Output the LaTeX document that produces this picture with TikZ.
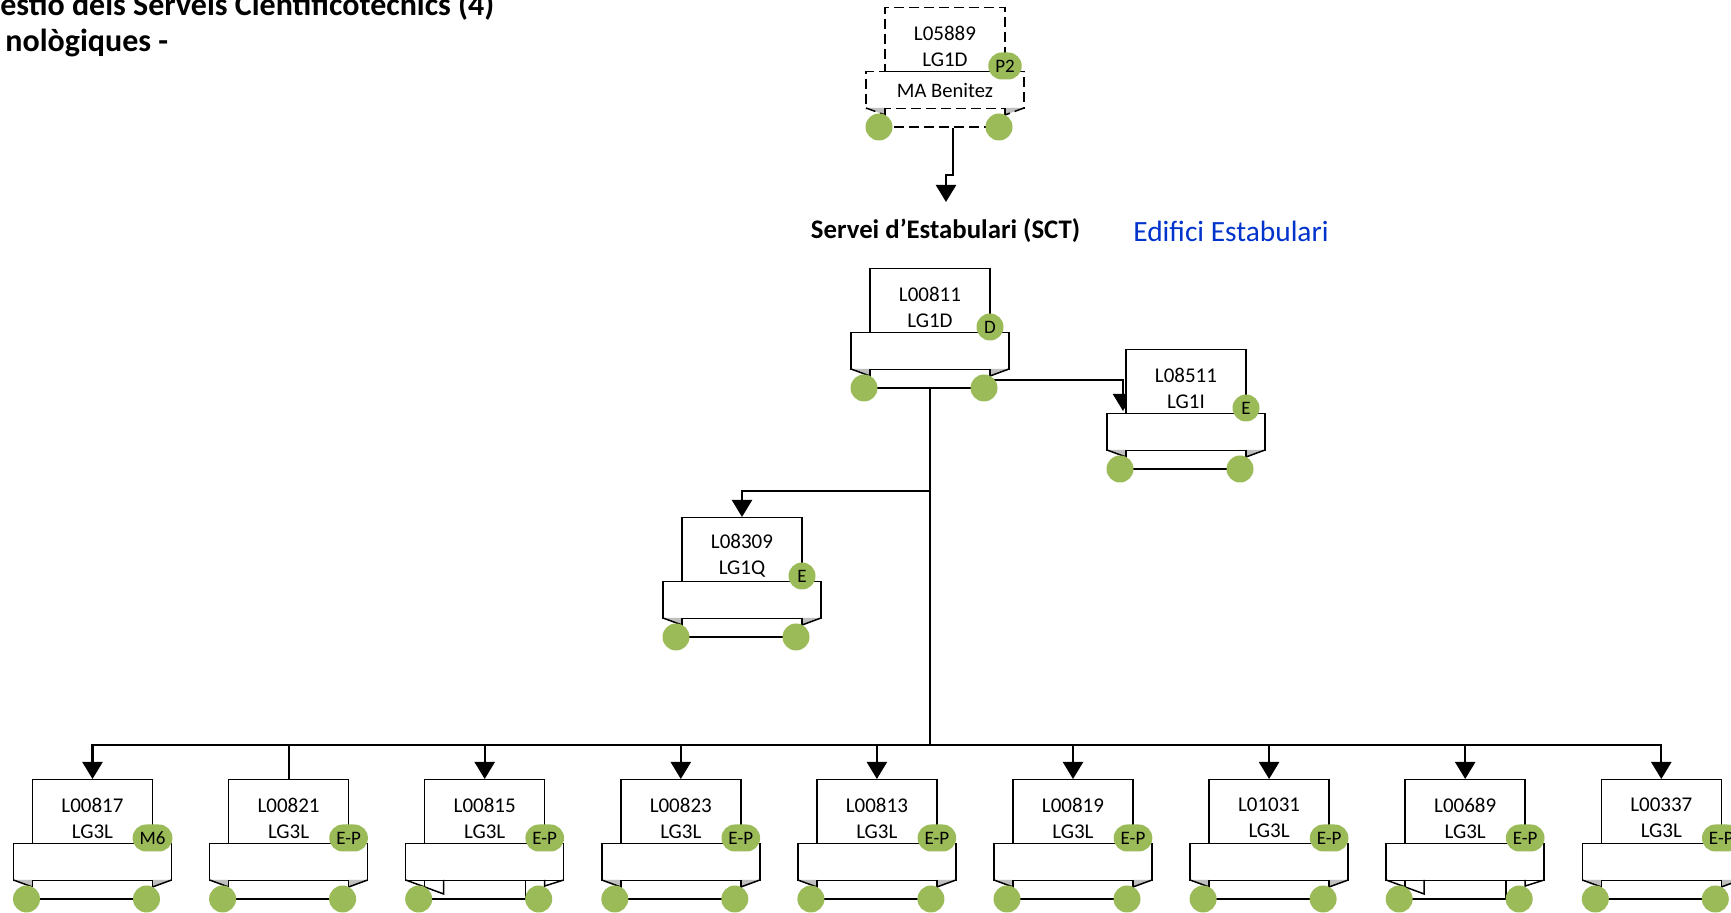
\documentclass[tikz,border=0pt]{standalone}
\usepackage{fontspec}
\setmainfont{Carlito}
\usetikzlibrary{arrows.meta,calc}
\definecolor{olive}{HTML}{9BBB59}
\definecolor{foldgray}{HTML}{BFBFBF}
\definecolor{linkblue}{HTML}{0033CC}
\tikzset{
  boxline/.style={line width=0.75pt,black},
  upbox/.style={boxline,draw,fill=white,minimum width=60pt,minimum height=32pt,inner sep=0pt,anchor=north},
  banbox/.style={boxline,draw,fill=white,minimum width=79pt,minimum height=18.5pt,inner sep=0pt,anchor=north,font=\fontsize{10.3}{12}\selectfont},
  boxtext/.style={align=center,font=\fontsize{10.5}{13}\selectfont,inner sep=0pt},
  dot/.style={circle,fill=olive,draw=none,minimum size=13.5pt,inner sep=0pt},
  badge/.style={rounded corners=6.75pt,fill=olive,draw=none,minimum width=13.5pt,minimum height=13.5pt,inner xsep=3.5pt,inner ysep=0pt,font=\fontsize{9.5}{10}\selectfont},
  conn/.style={line width=1.1pt,black},
  arr/.style={-{Triangle[width=10pt,length=8.5pt]}},
  dsh/.style={dash pattern=on 5pt off 2.5pt},
  titletext/.style={anchor=base west,inner sep=0pt,font=\bfseries\fontsize{16}{17}\selectfont},
}
% #1 extra style, #2 id, #3 cx, #4 top, #5 line1, #6 line2, #7 badge, #8 fold variant, #9 banner text
\newcommand\orgunit[9][]{%
  \node[upbox,#1] (u#2) at (#3,#4) {};
  \node[banbox,#1] (n#2) at (#3,#4+64) {#9};
  \node[boxtext] (t#2) at (#3,#4+39) {#5\\#6};
  \ifx#8B
    \draw[boxline,#1] (#3-79,#4+101) -- (#3-41,#4+115) -- (#3-41,#4+101);
    \draw[boxline,#1] (#3-60,#4+101) -- (#3-60,#4+120);
    \draw[boxline,#1] (#3+79,#4+101) -- (#3+60,#4+107) -- (#3+60,#4+101);
    \draw[boxline,#1] (#3+41,#4+101) -- (#3+41,#4+120);
  \else
    \fill[foldgray] (#3-79,#4+101) -- (#3-60,#4+101) -- (#3-60,#4+108) -- cycle;
    \fill[foldgray] (#3+79,#4+101) -- (#3+60,#4+101) -- (#3+60,#4+108) -- cycle;
    \draw[boxline,#1] (#3-79,#4+101) -- (#3-60,#4+108);
    \draw[boxline,#1] (#3+79,#4+101) -- (#3+60,#4+108);
    \draw[boxline,#1] (#3-60,#4+101) -- (#3-60,#4+120);
    \draw[boxline,#1] (#3+60,#4+101) -- (#3+60,#4+120);
  \fi
  \draw[boxline,#1] (#3-66,#4+120) -- (#3+54,#4+120);
  \node[dot] (c#2l) at (#3-66,#4+120) {};
  \node[dot] (c#2r) at (#3+54,#4+120) {};
  \node[badge] (g#2) at (#3+60,#4+59) {#7};
}
\begin{document}
\begin{tikzpicture}[x=0.5pt,y=-0.5pt]
\useasboundingbox (0,0) rectangle (1731,913);
\clip (0,0) rectangle (1731,913);

% title (partly cut by the page edge, as in the reference)
\node[titletext] (title1) at (0,16) {estió dels Serveis Cientificotècnics (4)};
\node[titletext] (title2) at (5,52) {nològiques -};

% section labels
\node[inner sep=0pt,font=\bfseries\fontsize{13.4}{15}\selectfont] (servei) at (945.5,231) {Servei d’Estabulari (SCT)};
\node[inner sep=0pt,font=\fontsize{14.7}{16}\selectfont,text=linkblue] (edifici) at (1231,231) {Edifici Estabulari};

% connector anchor points
\coordinate (s1) at (953,128);
\coordinate (k1) at (953,175);
\coordinate (tip1) at (946,202);
\coordinate (m811) at (930,389);
\coordinate (j1) at (930,491);
\coordinate (bus) at (930,745);
\coordinate (j2) at (984,380);
\coordinate (tip8511) at (1123,411);

% connectors (drawn first, boxes cover them)
\draw[conn,arr] (s1) -- (k1) -| (tip1);
\draw[conn] (m811) -- (bus);
\draw[conn,arr] (j2) -| (tip8511);
\draw[conn,arr] (j1) -| (742,517);
\draw[conn,arr] (bus) -| (92.5,779);
\draw[conn] (bus) -| (288.6,779);
\draw[conn,arr] (bus) -| (484.7,779);
\draw[conn,arr] (bus) -| (680.8,779);
\draw[conn,arr] (bus) -| (876.9,779);
\draw[conn,arr] (bus) -| (1073,779);
\draw[conn,arr] (bus) -| (1269.1,779);
\draw[conn,arr] (bus) -| (1465.2,779);
\draw[conn,arr] (bus) -| (1661.3,779);

% units
\orgunit[dsh]{5889}{945}{7}{L05889}{LG1D}{P2}{A}{MA Benitez}
\orgunit{811}{930}{268}{L00811}{LG1D}{D}{A}{}
\orgunit{8511}{1186}{349}{L08511}{LG1I}{E}{A}{}
\orgunit{8309}{742}{517}{L08309}{LG1Q}{E}{A}{}
\orgunit{817}{92.5}{779}{L00817}{LG3L}{M6}{A}{}
\orgunit{821}{288.6}{779}{L00821}{LG3L}{E-P}{A}{}
\orgunit{815}{484.7}{779}{L00815}{LG3L}{E-P}{B}{}
\orgunit{823}{680.8}{779}{L00823}{LG3L}{E-P}{A}{}
\orgunit{813}{876.9}{779}{L00813}{LG3L}{E-P}{A}{}
\orgunit{819}{1073}{779}{L00819}{LG3L}{E-P}{A}{}
\orgunit{1031}{1269.1}{779}{L01031}{LG3L}{E-P}{A}{}
\orgunit{689}{1465.2}{779}{L00689}{LG3L}{E-P}{B}{}
\orgunit{337}{1661.3}{779}{L00337}{LG3L}{E-P}{A}{}
\end{tikzpicture}
\end{document}
